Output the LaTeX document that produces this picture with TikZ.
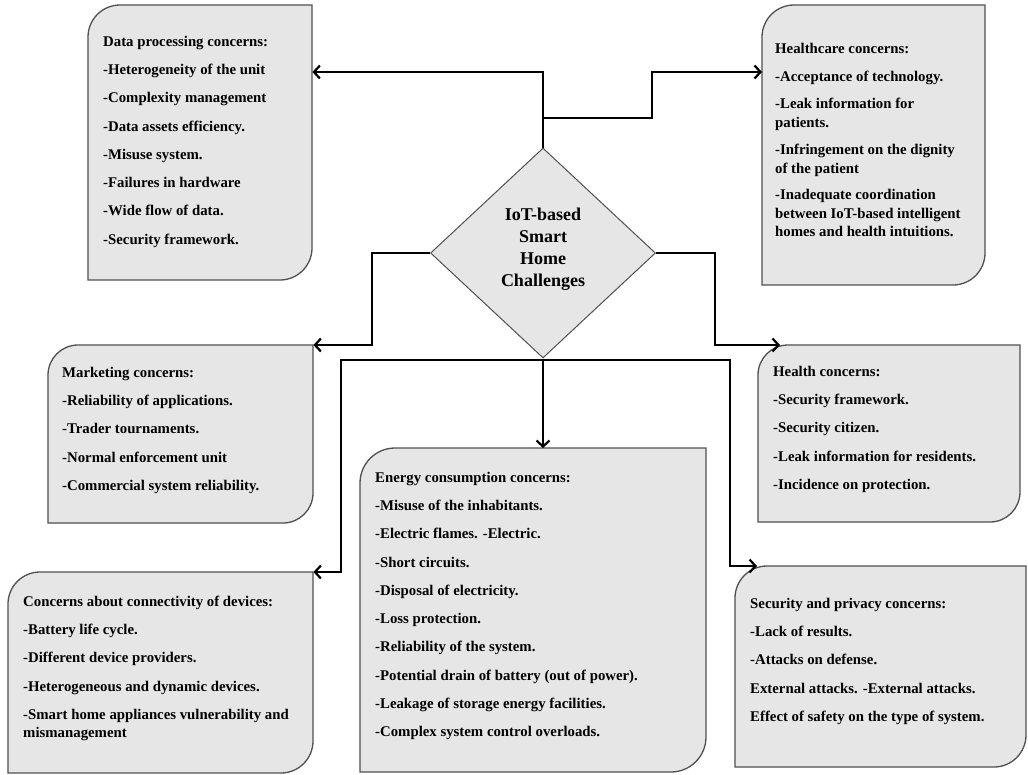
\documentclass[tikz,border=0pt]{standalone}
\usepackage{fontspec}
\setmainfont{Liberation Serif}
\usetikzlibrary{arrows.meta,shapes.geometric,calc}
\definecolor{boxfill}{RGB}{230,230,230}
\definecolor{boxline}{RGB}{80,80,80}
\newcommand{\RoundBox}[6]{%
  \node[boxframe, minimum width={(#4-#2)*1pt}, minimum height={(#5-#3)*1pt}] (#1) at (#2,#3) {};
  \path[boxpath] (#2,#5) -- (#2,#3+#6) .. controls (#2,#3+0.448*#6) and (#2+0.448*#6,#3) .. (#2+#6,#3)
     -- (#4,#3) -- (#4,#5-#6) .. controls (#4,#5-0.448*#6) and (#4-0.448*#6,#5) .. (#4-#6,#5) -- cycle;
}
\tikzset{
  boxframe/.style={rectangle, anchor=north west, inner sep=0pt, draw=none},
  boxpath/.style={fill=boxfill, draw=boxline, line width=1.3pt},
  txt/.style={anchor=north west, align=left, inner sep=0pt, font=\fontsize{14.8}{18.5}\selectfont\bfseries},
  conn/.style={line width=2.2pt, black},
  arr/.style={conn, -{Straight Barb[length=6pt,width=13pt]}},
}
\begin{document}
\begin{tikzpicture}[x=1pt, y=-1pt]
\useasboundingbox (0,0) rectangle (1028,774);

\RoundBox{dp}{88}{5}{312}{280}{32}
\RoundBox{hc}{762}{5}{985}{285}{32}
\RoundBox{mk}{48}{345}{313}{523}{30}
\RoundBox{hl}{758}{345}{1020}{522}{30}
\RoundBox{en}{360}{448}{706}{772}{35}
\RoundBox{cn}{8}{572}{313}{773}{32}
\RoundBox{sp}{735}{566}{1026}{767}{32}

\node[txt] (dp-t) at (103,33) {\strut Data processing concerns:\\[9.8pt]
-Heterogeneity of the unit\\[9.8pt]
-Complexity management\\[9.8pt]
-Data assets efficiency.\\[9.8pt]
-Misuse system.\\[9.8pt]
-Failures in hardware\\[9.8pt]
-Wide flow of data.\\[9.8pt]
-Security framework.};

\node[txt] (hc-t) at (775,40) {\strut Healthcare concerns:\\[9.5pt]
-Acceptance of technology.\\[9pt]
-Leak information for\\
patients.\\[9pt]
-Infringement on the dignity\\
of the patient\\[8pt]
-Inadequate coordination\\
between IoT-based intelligent\\
homes and health intuitions.};

\node[txt] (mk-t) at (62,364) {\strut Marketing concerns:\\[9.8pt]
-Reliability of applications.\\[9.8pt]
-Trader tournaments.\\[9.8pt]
-Normal enforcement unit\\[9.8pt]
-Commercial system reliability.};

\node[txt] (hl-t) at (773,363) {\strut Health concerns:\\[9.8pt]
-Security framework.\\[9.8pt]
-Security citizen.\\[9.8pt]
-Leak information for residents.\\[9.8pt]
-Incidence on protection.};

\node[txt] (en-t) at (375,469) {\strut Energy consumption concerns:\\[9.8pt]
-Misuse of the inhabitants.\\[9.8pt]
-Electric flames. -Electric.\\[9.8pt]
-Short circuits.\\[9.8pt]
-Disposal of electricity.\\[9.8pt]
-Loss protection.\\[9.8pt]
-Reliability of the system.\\[9.8pt]
-Potential drain of battery (out of power).\\[9.8pt]
-Leakage of storage energy facilities.\\[9.8pt]
-Complex system control overloads.};

\node[txt] (cn-t) at (23,593) {\strut Concerns about connectivity of devices:\\[9.8pt]
-Battery life cycle.\\[9.8pt]
-Different device providers.\\[9.8pt]
-Heterogeneous and dynamic devices.\\[9.8pt]
-Smart home appliances vulnerability and\\
mismanagement};

\node[txt] (sp-t) at (750,595) {\strut Security and privacy concerns:\\[9.8pt]
-Lack of results.\\[9.8pt]
-Attacks on defense.\\[9.8pt]
External attacks. -External attacks.\\[9.8pt]
Effect of safety on the type of system.};

\node[diamond, draw=boxline, fill=boxfill, line width=1pt, minimum width=225pt, minimum height=210pt,
      inner sep=0pt, align=center, font=\fontsize{18}{22}\selectfont\bfseries]
      (dia) at (543,253) {IoT-based\\Smart\\Home\\Challenges\\[-10pt]~};

\coordinate (tj) at (543,118);
\coordinate (tl) at (543,72);
\coordinate (tr) at (652,72);
\coordinate (lb) at (372,345);
\coordinate (rb) at (715,345);
\coordinate (bj) at (543,360);
\coordinate (bl) at (341,360);
\coordinate (br) at (730,360);

\draw[conn] (dia.north) -- (tj);
\draw[arr] (tj) -- (tl) -- (tl -| dp.east);
\draw[arr] (tj) -| (tr) -- (tr -| hc.west);
\draw[arr] (dia.west) -| (lb) -- (mk.north east);
\draw[arr] (dia.east) -| (rb) -- ([xshift=22pt]hl.north west);
\draw[conn] (dia.south) -- (bj);
\draw[arr] (bj) -- (bj |- en.north);
\draw[arr] (bj) -- (bl) |- (cn.north east);
\draw[arr] (bj) -- (br) |- ([xshift=22pt]sp.north west);
\end{tikzpicture}
\end{document}
